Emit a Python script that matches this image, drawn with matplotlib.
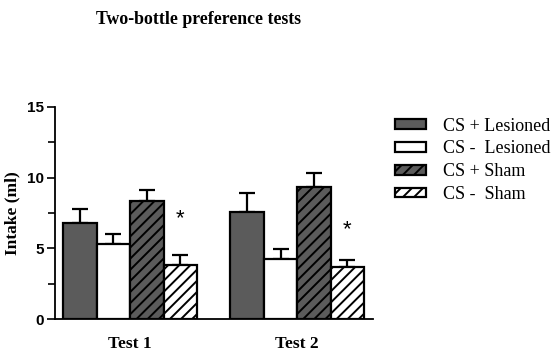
import numpy as np
import matplotlib.pyplot as plt
from matplotlib.patches import Patch
from matplotlib.ticker import MultipleLocator

# values
tests = ['Test 1', 'Test 2']
series = ['CS + Lesioned', 'CS -  Lesioned', 'CS + Sham', 'CS -  Sham']
means = [[6.8, 7.6],
         [5.3, 4.25],
         [8.35, 9.35],
         [3.85, 3.65]]
sems = [[1.0, 1.3],
        [0.7, 0.7],
        [0.75, 1.0],
        [0.65, 0.5]]
star_y = [7.1, 6.3]

fills = ['#5b5b5b', 'white', '#5b5b5b', 'white']
hatches = [None, None, '///', '///']

plt.rcParams['hatch.linewidth'] = 1.4
serif = 'Liberation Serif'
sans = 'Liberation Sans'

fig = plt.figure(figsize=(5.54, 3.53), dpi=100)
ax = fig.add_axes([0.0993, 0.0963, 0.5747, 0.6007])

x = np.arange(len(tests))
w = 0.2
for i in range(4):
    pos = x - 1.5 * w + i * w
    ax.bar(pos, means[i], w, color=fills[i], edgecolor='black', linewidth=1.6,
           hatch=hatches[i], zorder=2)
    ax.errorbar(pos, means[i], yerr=[np.zeros(2), sems[i]], fmt='none',
                ecolor='black', elinewidth=1.6, capsize=5.5, capthick=1.6, zorder=1)

for j in range(2):
    ax.text(x[j] + 1.5 * w, star_y[j], '*', ha='center', va='center',
            fontsize=16, family=sans)

ax.set_xlim(-0.449, 1.455)
ax.set_ylim(0, 15)
ax.yaxis.set_major_locator(MultipleLocator(5))
ax.yaxis.set_minor_locator(MultipleLocator(2.5))
ax.spines['top'].set_visible(False)
ax.spines['right'].set_visible(False)
ax.spines['left'].set_linewidth(1.3)
ax.spines['bottom'].set_linewidth(1.3)
ax.tick_params(axis='y', which='major', length=6, width=1.2, direction='out', pad=2)
ax.tick_params(axis='y', which='minor', length=5, width=1.2, direction='out')
ax.tick_params(axis='x', length=0, pad=12)
ax.set_xticks(x)
ax.set_xticklabels(tests, family=serif, fontweight='bold', fontsize=12.5)
for lab in ax.get_yticklabels():
    lab.set_family(sans)
    lab.set_fontweight('bold')
    lab.set_fontsize(11)
ax.set_ylabel('Intake (ml)', family=serif, fontweight='bold', fontsize=12.5)
ax.yaxis.set_label_coords(-0.11, 0.5)

fig.text(199 / 554, 1 - 20 / 353, 'Two-bottle preference tests', ha='center', va='center',
         family=serif, fontweight='bold', fontsize=12.8)

handles = [Patch(facecolor=fills[i], edgecolor='black', linewidth=1.6, hatch=hatches[i])
           for i in range(4)]
fig.legend(handles, series, loc='upper left', bbox_to_anchor=(0.713, 0.667),
           frameon=False, prop={'family': serif, 'size': 13},
           handlelength=1.72, handleheight=0.45, handletextpad=0.95, labelspacing=0.32,
           borderaxespad=0, borderpad=0)

fig.savefig('out.png', dpi=100)
